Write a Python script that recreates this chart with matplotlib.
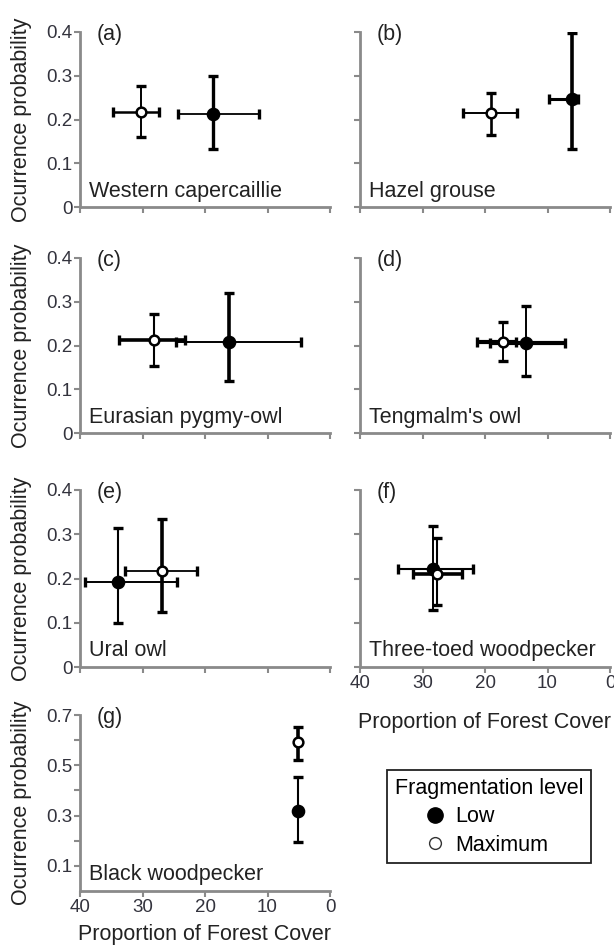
import matplotlib.pyplot as plt
from matplotlib.lines import Line2D

plt.rcParams['font.family'] = ['Liberation Sans', 'DejaVu Sans']

# panel tags and species
panel_tags = ['(a)', '(b)', '(c)', '(d)', '(e)', '(f)', '(g)']
species = ['Western capercaillie', 'Hazel grouse', 'Eurasian pygmy-owl',
           "Tengmalm's owl", 'Ural owl', 'Three-toed woodpecker',
           'Black woodpecker']

# low fragmentation: forest cover (%) with interval, occurrence probability with interval
low_x = [18.7, 6.1, 16.2, 13.5, 34.0, 28.4, 5.2]
low_x_min = [11.3, 5.1, 4.6, 7.2, 24.5, 22.0, 5.2]
low_x_max = [24.3, 9.7, 24.6, 19.2, 39.2, 33.9, 5.2]
low_y = [0.213, 0.246, 0.209, 0.205, 0.193, 0.221, 0.320]
low_y_min = [0.133, 0.132, 0.119, 0.130, 0.100, 0.128, 0.193]
low_y_max = [0.300, 0.398, 0.319, 0.290, 0.315, 0.318, 0.455]

# maximum fragmentation
max_x = [30.3, 19.1, 28.2, 17.1, 26.9, 27.7, 5.2]
max_x_min = [27.3, 14.9, 23.2, 15.0, 21.3, 23.7, 5.2]
max_x_max = [34.8, 23.5, 33.8, 21.3, 32.8, 31.5, 5.2]
max_y = [0.218, 0.214, 0.213, 0.209, 0.217, 0.210, 0.591]
max_y_min = [0.159, 0.165, 0.154, 0.165, 0.125, 0.140, 0.521]
max_y_max = [0.277, 0.260, 0.272, 0.254, 0.334, 0.292, 0.654]

x_ticks = [40, 30, 20, 10, 0]
y_ticks = [0, 0.1, 0.2, 0.3, 0.4]
g_ticks = [0.1, 0.3, 0.5, 0.7]
g_minor = [0.2, 0.4, 0.6]

# (x bar width, y bar width) per panel
lw_low = [(1.3, 2.4), (2.2, 2.6), (1.4, 2.6), (3.0, 1.4), (1.4, 1.5), (1.5, 1.4), (1.0, 1.5)]
lw_max = [(1.8, 1.4), (1.4, 1.9), (2.6, 1.5), (3.0, 1.4), (1.3, 2.6), (2.6, 1.5), (1.0, 2.6)]

W, H = 614, 949
fig = plt.figure(figsize=(W / 100, H / 100), dpi=100)

cols = [(80, 330), (360, 610)]
rows = [(32, 207), (258, 433), (490, 667), (715, 891)]
grid = [(0, 0), (0, 1), (1, 0), (1, 1), (2, 0), (2, 1), (3, 0)]

spine_col = '#8a8a8a'
tick_col = '#33333d'


def draw_point(ax, x, xlo, xhi, y, ylo, yhi, lws, filled):
    face = 'black' if filled else 'white'
    z = 3 if filled else 4
    if xhi > xlo:
        ax.errorbar(x, y, xerr=[[x - xlo], [xhi - x]], fmt='none', ecolor='black',
                    elinewidth=lws[0], capsize=3.5, capthick=2.4, zorder=z)
    ax.errorbar(x, y, yerr=[[y - ylo], [yhi - y]], fmt='none', ecolor='black',
                elinewidth=lws[1], capsize=3.5, capthick=2.4, zorder=z)
    ax.plot(x, y, 'o', ms=8 if filled else 7, mfc=face, mec='black',
            mew=1.8, zorder=z + 0.5)


for i, (r, c) in enumerate(grid):
    x0, x1 = cols[c]
    yt, yb = rows[r]
    ax = fig.add_axes([x0 / W, 1 - yb / H, (x1 - x0) / W, (yb - yt) / H])

    draw_point(ax, low_x[i], low_x_min[i], low_x_max[i],
               low_y[i], low_y_min[i], low_y_max[i], lw_low[i], True)
    draw_point(ax, max_x[i], max_x_min[i], max_x_max[i],
               max_y[i], max_y_min[i], max_y_max[i], lw_max[i], False)

    ax.set_xlim(40, 0)
    ax.set_xticks(x_ticks)
    if i == 6:
        ax.set_ylim(0, 0.7)
        ax.set_yticks(g_ticks)
        ax.set_yticklabels(['0.1', '0.3', '0.5', '0.7'])
        ax.set_yticks(g_minor, minor=True)
    else:
        ax.set_ylim(0, 0.4)
        ax.set_yticks(y_ticks)
        ax.set_yticklabels(['0', '0.1', '0.2', '0.3', '0.4'])

    for s in ['top', 'right']:
        ax.spines[s].set_visible(False)
    for s in ['left', 'bottom']:
        ax.spines[s].set_color(spine_col)
        ax.spines[s].set_linewidth(2.0)
    ax.tick_params(which='both', direction='out', length=4, width=1.5,
                   color=spine_col, labelsize=13.5, labelcolor=tick_col, pad=1.5)

    if c == 1:
        ax.tick_params(labelleft=False)
    else:
        ax.set_ylabel('Ocurrence probability', fontsize=15.5, color='#222222')
        ax.yaxis.set_label_coords(-0.19, 0.5)

    if i in (5, 6):
        ax.set_xticklabels([str(t) for t in x_ticks])
        ax.set_xlabel('Proportion of Forest Cover', fontsize=15.5, color='#222222',
                      labelpad=15 if i == 5 else 6)
    else:
        ax.tick_params(labelbottom=False)

    ax.text(0.065, 1.045, panel_tags[i], transform=ax.transAxes, fontsize=15.5,
            va='top', ha='left', color='#222222')
    ax.text(0.035, 0.06, species[i], transform=ax.transAxes, fontsize=15.5,
            va='baseline', ha='left', color='#222222')

handles = [
    Line2D([], [], ls='none', marker='o', ms=11, mfc='black', mec='black'),
    Line2D([], [], ls='none', marker='o', ms=8.5, mfc='white', mec='#333333', mew=1.0),
]
leg = fig.legend(handles, ['Low', 'Maximum'], title='Fragmentation level',
                 loc='upper left', bbox_to_anchor=(387 / W, 1 - 770 / H),
                 fontsize=15.5, title_fontsize=15.5, frameon=True, fancybox=False,
                 edgecolor='#222222', framealpha=1, borderpad=0.35,
                 handlelength=3.8, handletextpad=-1.0, labelspacing=0.35,
                 alignment='left', borderaxespad=0)
leg.get_frame().set_linewidth(1.3)

fig.savefig('out.png', dpi=100)
